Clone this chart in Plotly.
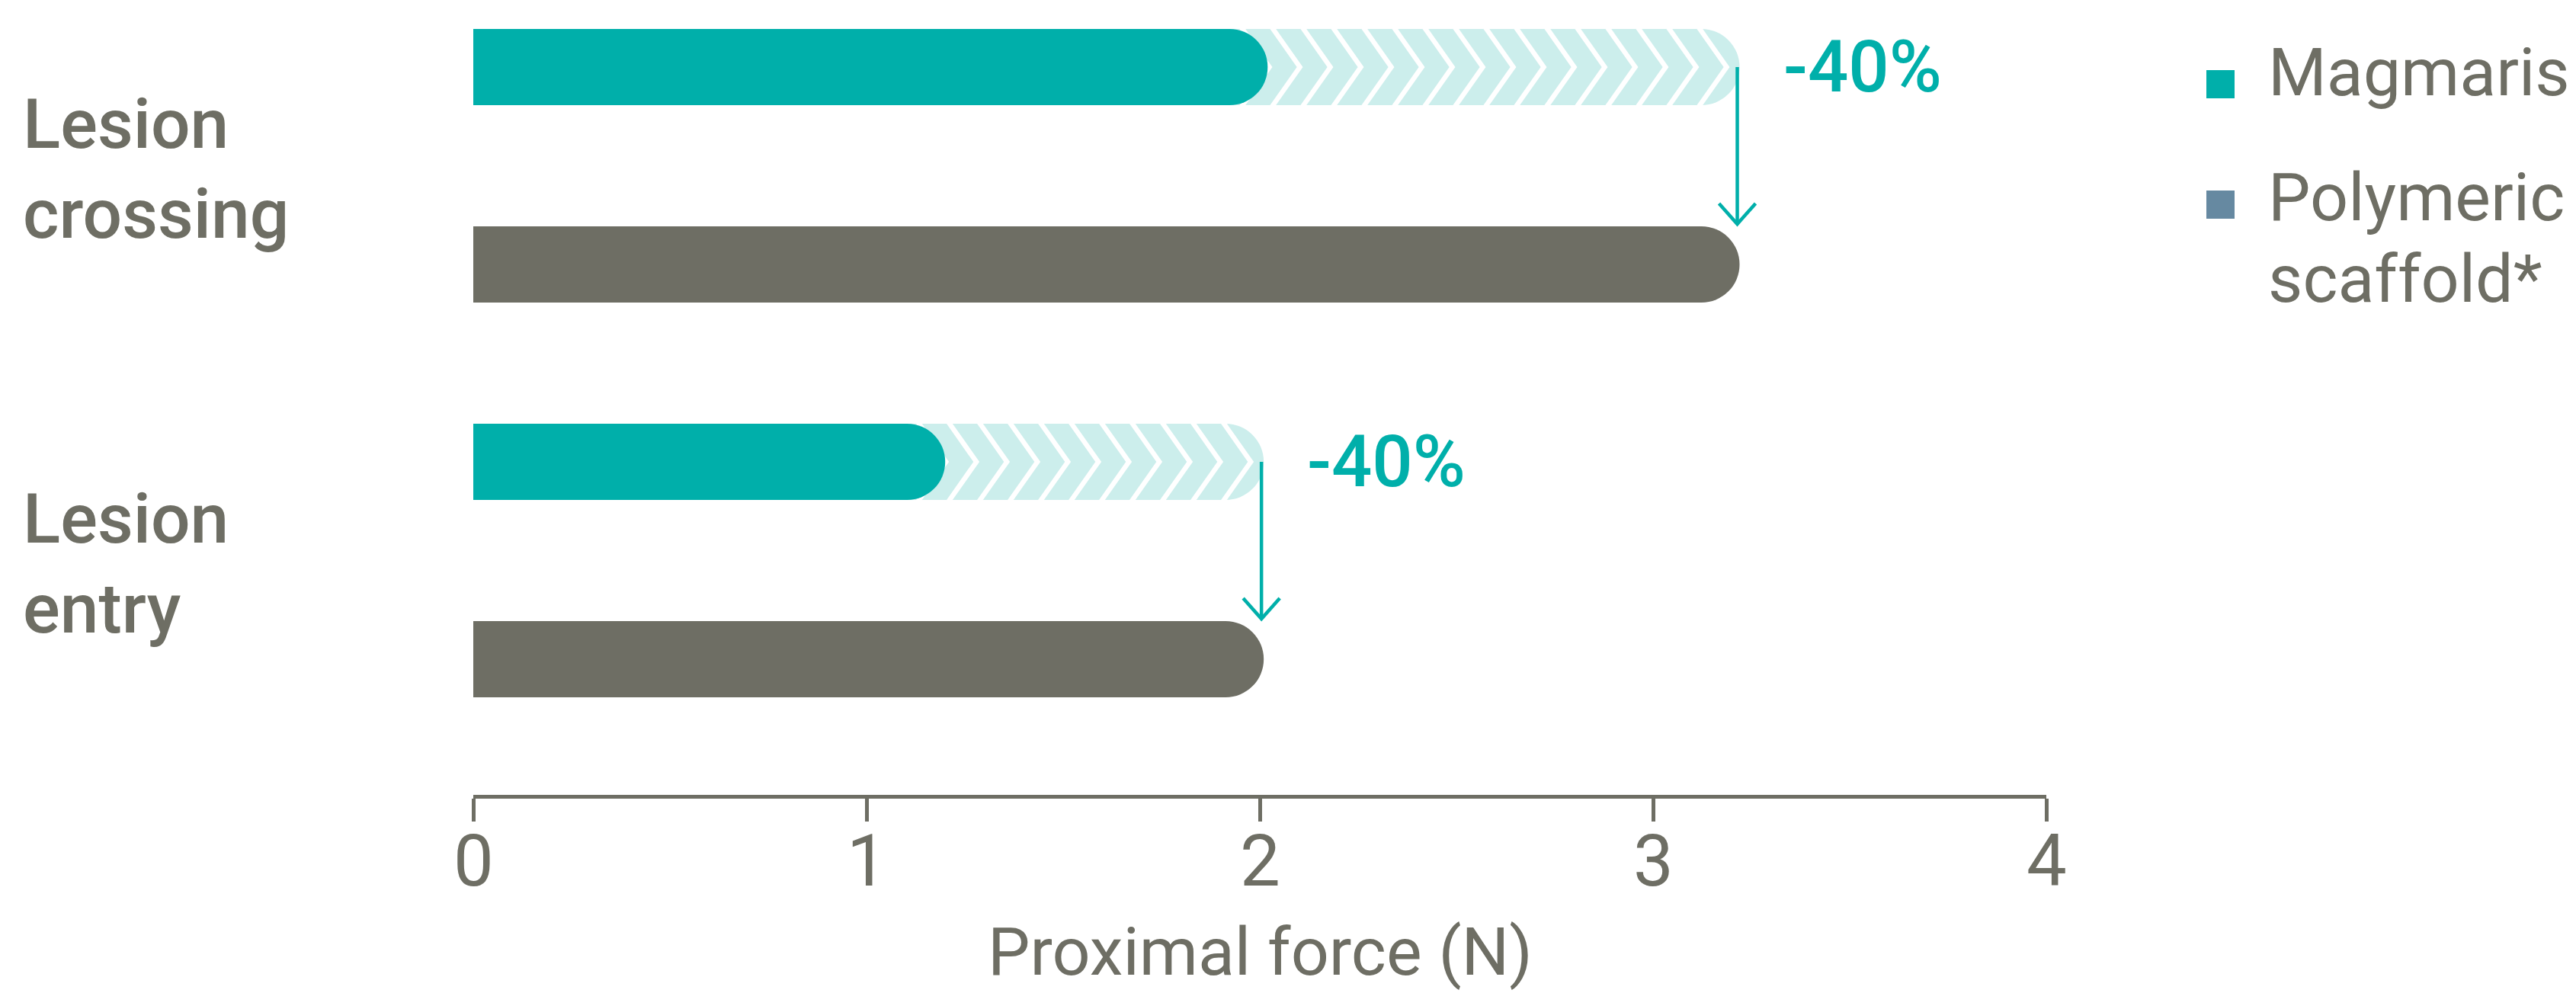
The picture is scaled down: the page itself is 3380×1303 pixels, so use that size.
import plotly.graph_objects as go

# ---------------- data ----------------
categories = ["Lesion crossing", "Lesion entry"]
magmaris = [2.02, 1.20]          # proximal force (N)
polymeric = [3.22, 2.01]         # proximal force (N)
reduction_labels = ["-40%", "-40%"]
series_names = ["Magmaris", "Polymeric scaffold*"]
x_ticks = [0, 1, 2, 3, 4]
x_tick_labels = ["0", "1", "2", "3", "4"]
x_title = "Proximal force (N)"

# ---------------- styles ----------------
TEAL = "#00AFAA"
TEAL_LIGHT = "#CCEEEC"
GREY = "#6E6E64"
POLY_LEGEND = "#6689A1"
TEXT = "#6E6E64"
FONT = "Roboto"

W, H = 3380, 1303
ML, MR, MT, MB = 621, 695, 0, 260
plot_w = W - ML - MR
plot_h = H - MT - MB
x_range = [0, 4]
px_x = plot_w / (x_range[1] - x_range[0])   # pixels per N
row_px = 259                                 # pixels per row
bottom_pad_px = plot_h - 865
y_range = [-bottom_pad_px / row_px, -bottom_pad_px / row_px + plot_h / row_px]
bar_w = 100 / row_px
half = bar_w / 2

n = len(categories)
mag_y = [2 * (n - 1 - i) + 1 for i in range(n)]
poly_y = [2 * (n - 1 - i) for i in range(n)]


def px_to_paper_x(px):
    return (px - ML) / plot_w


def px_to_paper_y(py):
    return (plot_h - (py - MT)) / plot_h


fig = go.Figure()

# polymeric scaffold bars (grey)
fig.add_trace(go.Bar(
    y=poly_y, x=polymeric, orientation="h", width=bar_w,
    marker=dict(color=GREY, cornerradius=50, line=dict(width=0)),
    name="Polymeric scaffold*", showlegend=False, hoverinfo="x+name",
))
# light background bar showing the polymeric level on the Magmaris row
fig.add_trace(go.Bar(
    y=mag_y, x=polymeric, orientation="h", width=bar_w,
    marker=dict(color=TEAL_LIGHT, cornerradius=50, line=dict(width=0)),
    name="Polymeric level", showlegend=False, hoverinfo="skip",
))

# chevron decoration (white) inside the light bar
cx, cy = [], []
for P, yc in zip(polymeric, mag_y):
    tip_px = P * px_x - 17
    depth = 38 / px_x
    h = 54 / row_px
    while tip_px > 40:
        t = tip_px / px_x
        cx += [t - depth, t, t - depth, None]
        cy += [yc + h, yc, yc - h, None]
        tip_px -= 40
fig.add_trace(go.Scatter(
    x=cx, y=cy, mode="lines", line=dict(color="white", width=6.5),
    hoverinfo="skip", showlegend=False,
))

# arrows from polymeric level down to the polymeric bar
axs, ays = [], []
for P, ym, yp in zip(polymeric, mag_y, poly_y):
    ax = P - 3 / px_x
    tip = yp + half + 3 / row_px
    wx, wy = 24 / px_x, 27 / row_px
    axs += [ax, ax, None, ax - wx, ax, ax + wx, None]
    ays += [ym, tip, None, tip + wy, tip, tip + wy, None]
fig.add_trace(go.Scatter(
    x=axs, y=ays, mode="lines", line=dict(color=TEAL, width=4.5),
    hoverinfo="skip", showlegend=False,
))

# Magmaris bars (teal), on an overlaid subplot so they sit above the chevrons
fig.add_trace(go.Bar(
    y=mag_y, x=magmaris, orientation="h", width=bar_w,
    marker=dict(color=TEAL, cornerradius=50, line=dict(width=0)),
    name="Magmaris", showlegend=False, hoverinfo="x+name",
    xaxis="x2", yaxis="y2",
))

annotations = []
# reduction labels
for P, ym, lab in zip(polymeric, mag_y, reduction_labels):
    annotations.append(dict(
        x=P, y=ym, xref="x", yref="y", text=lab, showarrow=False,
        xanchor="left", yanchor="middle", xshift=55,
        font=dict(family=FONT, size=94, color=TEAL, weight=500),
    ))
# category labels
for cat, ym, yp in zip(categories, mag_y, poly_y):
    annotations.append(dict(
        x=px_to_paper_x(28), y=(ym + yp) / 2, xref="paper", yref="y",
        text=cat.replace(" ", "<br>"), showarrow=False, yshift=-4,
        xanchor="left", yanchor="middle", align="left",
        font=dict(family=FONT, size=91, color=TEXT, weight=500),
    ))

# x tick labels (placed under the axis ticks)
TICK_FS = 94
for v, lab in zip(x_ticks, x_tick_labels):
    annotations.append(dict(
        x=v, y=px_to_paper_y(1162 - 0.342 * TICK_FS), xref="x", yref="paper",
        text=lab, showarrow=False, xanchor="center", yanchor="middle",
        font=dict(family=FONT, size=TICK_FS, color=TEXT, weight=400),
    ))
# x axis title
TITLE_FS = 88
annotations.append(dict(
    x=0.5, y=px_to_paper_y(1279 - 0.342 * TITLE_FS), xref="paper", yref="paper",
    text=x_title, showarrow=False, xanchor="center", yanchor="middle",
    font=dict(family=FONT, size=TITLE_FS, color=TEXT, weight=400),
))

# custom legend
LEG_FS = 88
shapes = []
legend_colors = [TEAL, POLY_LEGEND]
legend_sq_top = [92, 250]
legend_baselines = [[125], [289, 396]]
for name, col, sq, bls in zip(series_names, legend_colors, legend_sq_top, legend_baselines):
    shapes.append(dict(
        type="rect", xref="paper", yref="paper",
        x0=px_to_paper_x(2895), x1=px_to_paper_x(2932),
        y0=px_to_paper_y(sq + 37), y1=px_to_paper_y(sq),
        fillcolor=col, line=dict(width=0), layer="above",
    ))
    for line, bl in zip(name.split(" "), bls):
        annotations.append(dict(
            x=px_to_paper_x(2974), y=px_to_paper_y(bl - 0.342 * LEG_FS),
            xref="paper", yref="paper",
            text=line, showarrow=False, xanchor="left", yanchor="middle", align="left",
            font=dict(family=FONT, size=LEG_FS, color=TEXT, weight=400),
        ))

fig.update_layout(
    width=W, height=H,
    margin=dict(l=ML, r=MR, t=MT, b=MB, pad=0),
    paper_bgcolor="white", plot_bgcolor="white",
    barmode="overlay",
    showlegend=False,
    xaxis=dict(
        range=x_range, tickvals=x_ticks, ticktext=x_tick_labels,
        showticklabels=False,
        ticks="outside", ticklen=30, tickwidth=5, tickcolor=GREY,
        showline=True, linewidth=5, linecolor=GREY,
        showgrid=False, zeroline=False, automargin=False,
    ),
    yaxis=dict(range=y_range, visible=False, showgrid=False, zeroline=False),
    xaxis2=dict(range=x_range, overlaying="x", anchor="y2", visible=False),
    yaxis2=dict(range=y_range, overlaying="y", anchor="x2", visible=False),
    annotations=annotations,
    shapes=shapes,
)

fig.write_html("out.html")
